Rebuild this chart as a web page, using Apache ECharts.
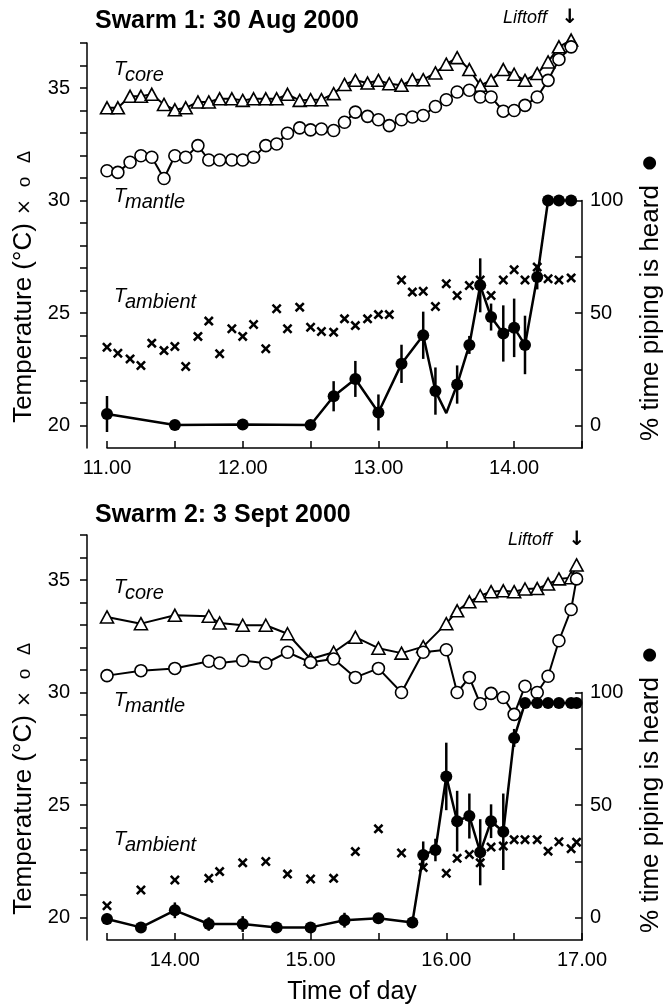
<!DOCTYPE html>
<html><head><meta charset="utf-8">
<script src="https://cdn.jsdelivr.net/npm/echarts@6/dist/echarts.min.js"></script>
<style>html,body{margin:0;padding:0;background:#fff}#c{width:672px;height:1008px}</style>
</head><body><div id="c"></div>
<script>
// ---------- Swarm 1 data ----------
const times1 = [11.00, 11.08, 11.17, 11.25, 11.33, 11.42, 11.50, 11.58, 11.67, 11.75, 11.83, 11.92,
  12.00, 12.08, 12.17, 12.25, 12.33, 12.42, 12.50, 12.58, 12.67, 12.75, 12.83, 12.92,
  13.00, 13.08, 13.17, 13.25, 13.33, 13.42, 13.50, 13.58, 13.67, 13.75, 13.83, 13.92,
  14.00, 14.08, 14.17, 14.25, 14.33, 14.42];
const core1 = [34.12, 34.12, 34.63, 34.63, 34.72, 34.27, 34.03, 34.12, 34.38, 34.38, 34.52, 34.52,
  34.45, 34.52, 34.52, 34.52, 34.72, 34.45, 34.48, 34.48, 34.75, 35.16, 35.34, 35.22,
  35.34, 35.19, 35.12, 35.37, 35.37, 35.67, 36.06, 36.35, 35.82, 35.12, 35.34, 35.82,
  35.61, 35.34, 35.64, 36.16, 36.83, 37.13];
const mantle1 = [31.32, 31.25, 31.70, 31.99, 31.92, 30.98, 31.99, 31.92, 32.44, 31.80, 31.80, 31.80,
  31.80, 31.92, 32.44, 32.51, 32.99, 33.23, 33.14, 33.18, 33.11, 33.48, 33.93, 33.74,
  33.59, 33.33, 33.59, 33.71, 33.78, 34.18, 34.48, 34.82, 34.90, 34.60, 34.60, 33.97,
  34.00, 34.23, 34.60, 35.34, 36.27, 36.83];
const ambient1 = [23.48, 23.21, 22.96, 22.67, 23.66, 23.33, 23.51, 22.62, 23.96, 24.64, 23.19, 24.30,
  23.96, 24.49, 23.41, 25.19, 24.30, 25.26, 24.37, 24.18, 24.15, 24.74, 24.44, 24.74,
  24.93, 24.93, 26.47, 25.93, 25.97, 25.29, 26.30, 25.78, 26.22, 26.47, 25.78, 26.47,
  26.92, 26.47, 27.04, 26.52, 26.47, 26.56];
const pipeTimes1 = [11.00, 11.50, 12.00, 12.50, 12.67, 12.83, 13.00, 13.17, 13.33, 13.42, 13.50,
  13.58, 13.67, 13.75, 13.83, 13.92, 14.00, 14.08, 14.17, 14.25, 14.33, 14.42];
const pipe1 = [5.1, 0.2, 0.4, 0.2, 13.0, 20.7, 5.8, 27.4, 40.1, 15.3, 5.5,
  18.2, 35.8, 62.3, 48.2, 40.9, 43.4, 35.8, 66.0, 100, 100, 100];
const pipeErr1 = [8, 0, 0, 0, 6.7, 8, 8, 8.5, 10.5, 10.5, 0,
  8.5, 4, 12, 6, 12.5, 13, 13, 5.5, 0, 0, 0];
const pipeNoMarker1 = [13.50];

// ---------- Swarm 2 data ----------
const times2 = [13.50, 13.75, 14.00, 14.25, 14.33, 14.50, 14.67, 14.83, 15.00, 15.17, 15.33, 15.50,
  15.67, 15.83, 16.00, 16.08, 16.17, 16.25, 16.33, 16.42, 16.50, 16.58, 16.67, 16.75,
  16.83, 16.92, 16.96];
const core2 = [33.36, 33.06, 33.43, 33.39, 33.09, 32.99, 32.99, 32.61, 31.49, 31.79, 32.46, 31.97,
  31.75, 32.04, 33.06, 33.63, 34.03, 34.30, 34.48, 34.52, 34.48, 34.60, 34.62, 34.82,
  35.05, 35.10, 35.67];
const mantle2 = [30.75, 30.97, 31.07, 31.39, 31.31, 31.42, 31.30, 31.79, 31.34, 31.49, 30.67, 31.07,
  30.00, 31.79, 31.90, 30.00, 30.67, 29.50, 29.96, 29.78, 29.03, 30.28, 30.00, 30.72,
  32.30, 33.69, 35.05];
const ambient2 = [20.52, 21.22, 21.67, 21.74, 22.04, 22.43, 22.49, 21.93, 21.71, 21.74, 22.93, 23.94,
  22.87, 22.22, 21.97, 22.63, 22.80, 22.43, 23.13, 23.18, 23.46, 23.46, 23.46, 22.95,
  23.37, 23.06, 23.35];
const pipeTimes2 = [13.50, 13.75, 14.00, 14.25, 14.50, 14.75, 15.00, 15.25, 15.50, 15.75, 15.83, 15.92,
  16.00, 16.08, 16.17, 16.25, 16.33, 16.42, 16.50, 16.58, 16.67, 16.75, 16.83, 16.92, 16.96];
const pipe2 = [-0.7, -4.4, 3.2, -2.9, -2.9, -4.4, -4.4, -1.2, -0.3, -2.2, 27.8, 30.0,
  62.7, 42.8, 45.1, 29.0, 42.8, 38.1, 79.8, 95.3, 95.3, 95.3, 95.3, 95.3, 95.3];
const pipeErr2 = [2.5, 0, 3.5, 3, 3.5, 0, 2, 3.3, 0, 2.5, 6, 5,
  15, 13.5, 10, 14.7, 7.5, 17, 4, 0, 0, 0, 0, 0, 0];

// ---------- ticks / text ----------
const tempTicks = [20, 21, 22, 23, 24, 25, 26, 27, 28, 29, 30, 31, 32, 33, 34, 35, 36, 37];
const tempLabels = [20, 25, 30, 35];
const pctTicks = [0, 25, 50, 75, 100];
const pctLabels = [0, 50, 100];
const titles = ['Swarm 1: 30 Aug 2000', 'Swarm 2: 3 Sept 2000'];

const FONT = '"Liberation Sans", Arial, Helvetica, sans-serif';
const BLACK = '#000';
const chart = echarts.init(document.getElementById('c'), null, {renderer: 'canvas'});

const pair = (xs, ys) => xs.map((x, i) => [x, ys[i]]);

function hourAxis(grid, min, max, show) {
  return {
    type: 'value', gridIndex: grid, min: min, max: max, interval: 0.5, show: show,
    axisLine: {show: true, onZero: false, lineStyle: {color: BLACK, width: 1.5}},
    axisTick: {show: true, inside: true, length: 7, lineStyle: {color: BLACK, width: 1.5}},
    axisLabel: {show: true, margin: 10, color: '#000', fontSize: 20, fontFamily: FONT,
      formatter: v => (Math.abs(v - Math.round(v)) < 1e-6 ? v.toFixed(2) : '')},
    splitLine: {show: false}
  };
}
function tempAxis(grid) {
  return {
    type: 'value', gridIndex: grid, position: 'left', offset: 20, min: 19, max: 37, interval: 1,
    axisLine: {show: true, onZero: false, lineStyle: {color: BLACK, width: 1.5}},
    axisTick: {show: true, inside: false, length: 7, customValues: tempTicks, lineStyle: {color: BLACK, width: 1.5}},
    axisLabel: {margin: 17, color: '#000', fontSize: 20, fontFamily: FONT, customValues: tempLabels},
    splitLine: {show: false}
  };
}
function pctAxis(grid) {
  return {
    type: 'value', gridIndex: grid, position: 'right', min: -10, max: 100,
    axisLine: {show: true, onZero: false, lineStyle: {color: BLACK, width: 1.5}},
    axisTick: {show: true, inside: true, length: 7, customValues: pctTicks, lineStyle: {color: BLACK, width: 1.5}},
    axisLabel: {margin: 8, color: '#000', fontSize: 20, fontFamily: FONT, customValues: pctLabels},
    splitLine: {show: false}
  };
}

const openStyle = {color: '#fff', borderColor: BLACK, borderWidth: 1.6};
function tempLine(xi, yi, ts, vs, symbol, size) {
  return {
    type: 'line', xAxisIndex: xi, yAxisIndex: yi, data: pair(ts, vs), clip: false,
    symbol: symbol, symbolSize: size, showAllSymbol: true, z: 4,
    itemStyle: openStyle, lineStyle: {color: BLACK, width: 2}, animation: false
  };
}
const crossPath = 'path://M0,1.8L1.8,0L5,3.2L8.2,0L10,1.8L6.8,5L10,8.2L8.2,10L5,6.8L1.8,10L0,8.2L3.2,5Z';
function ambientScatter(xi, yi, ts, vs) {
  return {
    type: 'scatter', xAxisIndex: xi, yAxisIndex: yi, data: pair(ts, vs), clip: false,
    symbol: crossPath, symbolSize: 10, z: 3,
    itemStyle: {color: BLACK, opacity: 1}, animation: false
  };
}
function pipeLine(xi, yi, ts, vs, noMarker) {
  return {
    type: 'line', xAxisIndex: xi, yAxisIndex: yi, clip: false, z: 5,
    data: ts.map((t, i) => (noMarker.indexOf(t) >= 0 ? {value: [t, vs[i]], symbol: 'none'} : [t, vs[i]])),
    symbol: 'circle', symbolSize: 12, showAllSymbol: true,
    itemStyle: {color: BLACK}, lineStyle: {color: BLACK, width: 2.5}, animation: false
  };
}
function errBars(xi, yi, ts, vs, es) {
  return {
    type: 'custom', xAxisIndex: xi, yAxisIndex: yi, clip: false, z: 4, animation: false,
    data: ts.map((t, i) => [t, vs[i], es[i]]),
    renderItem: (params, api) => {
      const t = api.value(0), v = api.value(1), e = api.value(2);
      if (!e) return {type: 'group', children: []};
      const p1 = api.coord([t, v - e]), p2 = api.coord([t, v + e]);
      return {type: 'line', shape: {x1: p1[0], y1: p1[1], x2: p2[0], y2: p2[1]},
        style: {stroke: BLACK, lineWidth: 2.5}};
    }
  };
}

// ---------- graphic text ----------
function txt(x, y, text, opts) {
  const o = opts || {};
  return {
    type: 'text', x: x, y: y, rotation: o.rot || 0, z: 10,
    style: {text: text, fill: '#000', fontSize: o.size || 20, fontFamily: o.family || FONT,
      fontWeight: o.weight || 'normal', fontStyle: o.style || 'normal',
      textAlign: o.align || 'left', textVerticalAlign: 'middle'}
  };
}
const graphics = [];
const panelDy = [0, 492];
[0, 1].forEach(p => {
  const dy = panelDy[p];
  graphics.push(txt(95, (p ? 515 : 21), titles[p], {size: 25, weight: 'bold'}));
  graphics.push(txt(24, 323 + dy, 'Temperature (°C)', {size: 26, rot: Math.PI / 2, align: 'center'}));
  graphics.push(txt(25, 207 + dy, '×', {size: 19, rot: Math.PI / 2, align: 'center', family: '"DejaVu Sans"'}));
  graphics.push(txt(25, 182 + dy, 'o', {size: 19, rot: Math.PI / 2, align: 'center'}));
  graphics.push(txt(25, 157 + dy, 'Δ', {size: 18, rot: Math.PI / 2, align: 'center'}));
  graphics.push(txt(651, 313 + dy, '% time piping is heard', {size: 26, rot: Math.PI / 2, align: 'center'}));
  graphics.push(txt(650, 163 + dy, '●', {size: 17, rot: Math.PI / 2, align: 'center', family: '"DejaVu Sans"'}));
});
graphics.push(txt(547, 18, 'Liftoff', {size: 18, style: 'italic', align: 'right'}));
graphics.push(txt(570, 18, '↓', {size: 20, weight: 'bold', align: 'center', family: '"DejaVu Sans"'}));
graphics.push(txt(552, 540, 'Liftoff', {size: 18, style: 'italic', align: 'right'}));
graphics.push(txt(577, 540, '↓', {size: 20, weight: 'bold', align: 'center', family: '"DejaVu Sans"'}));
// T labels with subscripts
const tLabels = [
  ['core', 69.5], ['mantle', 196], ['ambient', 296.5],
  ['core', 587.5], ['mantle', 700.5], ['ambient', 839.5]
];
tLabels.forEach(([sub, y]) => {
  graphics.push(txt(114, y, 'T', {size: 20, style: 'italic'}));
  graphics.push(txt(125, y + 6, sub, {size: 20, style: 'italic'}));
});
graphics.push(txt(352, 992, 'Time of day', {size: 25, align: 'center'}));

const option = {
  backgroundColor: '#fff',
  animation: false,
  grid: [
    {left: 107, right: 90, top: 43, height: 405},
    {left: 107, right: 90, top: 200.5, height: 247.5},
    {left: 107, right: 90, top: 535, height: 405},
    {left: 107, right: 90, top: 692.5, height: 247.5}
  ],
  xAxis: [hourAxis(0, 11, 14.5, true), hourAxis(1, 11, 14.5, false),
          hourAxis(2, 13.5, 17, true), hourAxis(3, 13.5, 17, false)],
  yAxis: [tempAxis(0), pctAxis(1), tempAxis(2), pctAxis(3)],
  series: [
    tempLine(0, 0, times1, core1, 'triangle', [13, 12]),
    tempLine(0, 0, times1, mantle1, 'circle', 12),
    ambientScatter(0, 0, times1, ambient1),
    errBars(1, 1, pipeTimes1, pipe1, pipeErr1),
    pipeLine(1, 1, pipeTimes1, pipe1, pipeNoMarker1),
    tempLine(2, 2, times2, core2, 'triangle', [13, 12]),
    tempLine(2, 2, times2, mantle2, 'circle', 12),
    ambientScatter(2, 2, times2, ambient2),
    errBars(3, 3, pipeTimes2, pipe2, pipeErr2),
    pipeLine(3, 3, pipeTimes2, pipe2, [])
  ],
  graphic: graphics
};
chart.setOption(option);
</script>
</body></html>
